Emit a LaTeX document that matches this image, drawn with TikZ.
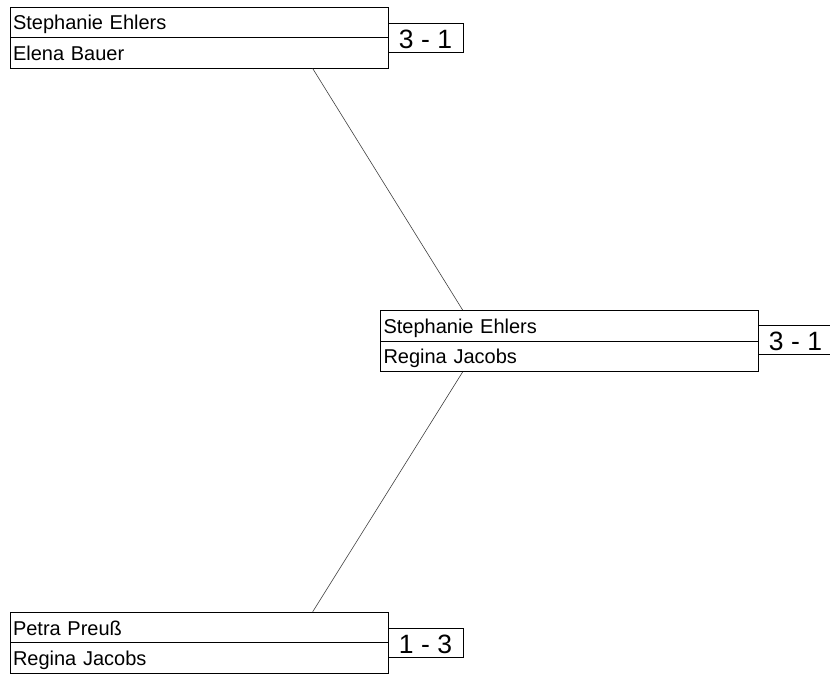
\documentclass[tikz,border=0pt]{standalone}
\usepackage{fontspec}
\setmainfont{Liberation Sans}
\usetikzlibrary{calc}
\tikzset{
  namebox/.style={rectangle, draw, line width=1pt, inner xsep=3pt, inner ysep=0pt, text width=372pt, align=left, minimum height=30.5pt, text height=15pt, text depth=0pt, font=\fontsize{20pt}{20pt}\selectfont},
  scorebox/.style={rectangle, draw, line width=1pt, minimum width=75pt, minimum height=29pt, inner sep=0pt, text height=21pt, text depth=0pt, font=\fontsize{26.5pt}{26.5pt}\selectfont},
  link/.style={line width=0.6pt, draw=black!75}
}
\begin{document}
\begin{tikzpicture}[x=1pt, y=-1pt]
  \useasboundingbox (0, 0) rectangle (830, 675);
  % Nodes
  \node (T1) [namebox] at (199, 22.25) {Stephanie Ehlers};
  \node (T2) [namebox] at (199, 52.75) {Elena Bauer};
  \node (TS) [scorebox] at (425.5, 37.5) {3 - 1};
  \node (M1) [namebox] at (569.5, 325.75) {Stephanie Ehlers};
  \node (M2) [namebox] at (569.5, 356.25) {Regina Jacobs};
  \node (MS) [scorebox, minimum width=82pt] at (799, 339.5) {\hspace*{-7pt}3 - 1};
  \node (B1) [namebox] at (199, 627.5) {Petra Preuß};
  \node (B2) [namebox] at (199, 658) {Regina Jacobs};
  \node (BS) [scorebox] at (425.5, 642.5) {1 - 3};
  % Lines
  \draw[link] ($(T2.south west)!0.8!(T2.south east)$) -- ($(M1.north west)!0.218!(M1.north east)$);
  \draw[link] ($(M2.south west)!0.218!(M2.south east)$) -- ($(B1.north west)!0.8!(B1.north east)$);
\end{tikzpicture}
\end{document}
